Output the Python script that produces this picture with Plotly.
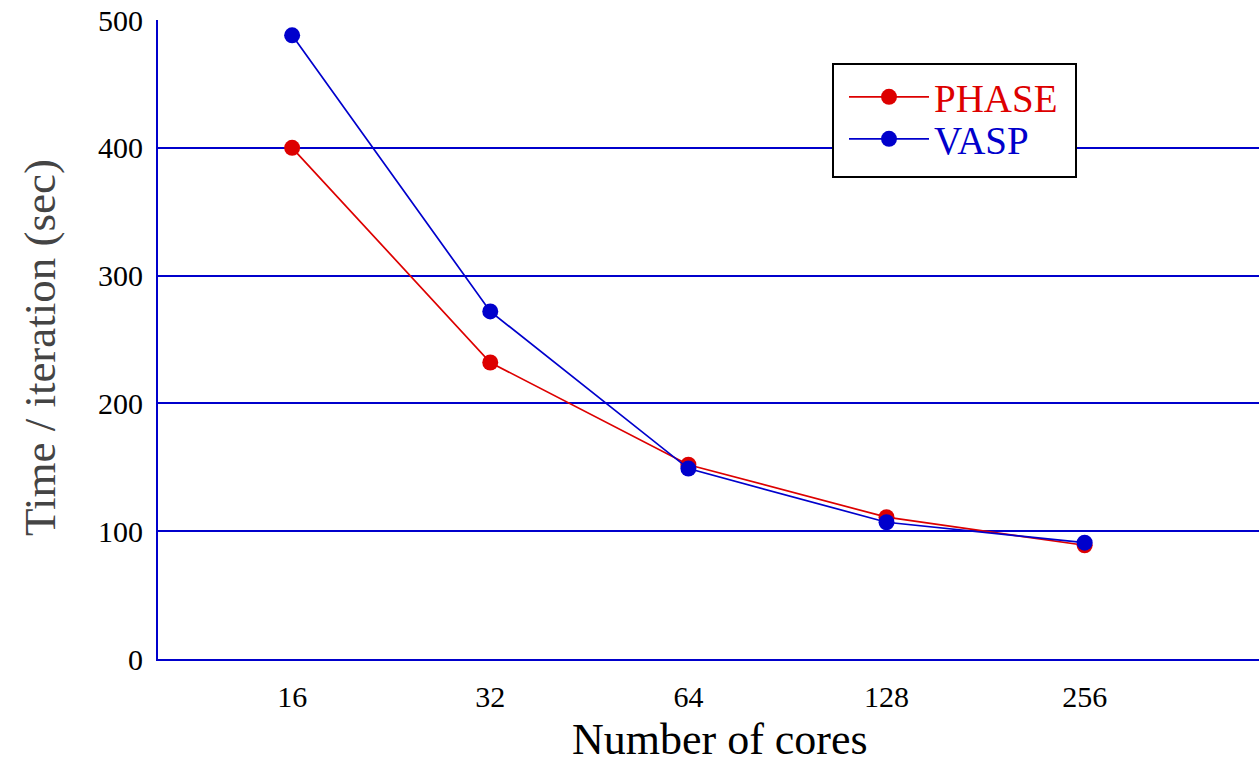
import plotly.graph_objects as go

# Parallel scaling benchmark: time per SCF iteration vs. core count
cores = ["16", "32", "64", "128", "256"]
phase_time = [400, 232, 152, 111, 89]
vasp_time = [488, 272, 149, 107, 91]
y_ticks = [0, 100, 200, 300, 400, 500]

RED = "#DD0000"
BLUE = "#0000CC"
SERIF = "Liberation Serif, Times New Roman, serif"

W, H = 1259, 766
L, R, T, B = 158, 0, 20, 107
PW, PH = W - L - R, H - T - B


def px_x(px):
    """Pixel column -> paper x."""
    return (px - L) / PW


def px_y(py):
    """Pixel row -> paper y."""
    return (H - B - py) / PH


fig = go.Figure()
fig.add_trace(go.Scatter(
    x=cores, y=phase_time, name="PHASE", mode="lines+markers",
    line=dict(color=RED, width=1.7),
    marker=dict(color=RED, size=16, symbol="circle"),
    legend="legend",
))
fig.add_trace(go.Scatter(
    x=cores, y=vasp_time, name="VASP", mode="lines+markers",
    line=dict(color=BLUE, width=1.7),
    marker=dict(color=BLUE, size=16, symbol="circle"),
    legend="legend2",
))

legend_common = dict(
    xanchor="left", yanchor="middle",
    bgcolor="rgba(0,0,0,0)", borderwidth=0,
    itemwidth=80,
)

fig.update_layout(
    width=W, height=H,
    margin=dict(l=L, r=R, t=T, b=B, autoexpand=False),
    plot_bgcolor="white", paper_bgcolor="white",
    font=dict(family=SERIF, color="black", size=30),
    showlegend=True,
    legend=dict(x=px_x(844), y=px_y(97),
                font=dict(family=SERIF, size=39, color=RED), **legend_common),
    legend2=dict(x=px_x(844), y=px_y(139),
                 font=dict(family=SERIF, size=39, color=BLUE), **legend_common),
    xaxis=dict(
        type="category", categoryorder="array", categoryarray=cores,
        range=[-0.677, 4.88],
        showgrid=False, zeroline=False,
        showline=True, linecolor=BLUE, linewidth=2,
        ticks="", ticklabelstandoff=10,
        tickfont=dict(family=SERIF, size=30),
        automargin=False,
    ),
    yaxis=dict(
        range=[0, 500], tickvals=y_ticks,
        showgrid=True, gridcolor=BLUE, gridwidth=2,
        zeroline=False,
        showline=True, linecolor=BLUE, linewidth=2,
        ticks="", ticklabelstandoff=7,
        tickfont=dict(family=SERIF, size=30),
        automargin=False,
    ),
    shapes=[
        # legend frame
        dict(type="rect", xref="paper", yref="paper", layer="above",
             x0=px_x(833), x1=px_x(1076), y0=px_y(177), y1=px_y(64),
             fillcolor="white", line=dict(color="black", width=2)),
    ],
    annotations=[
        dict(text="Number of cores", xref="paper", yref="paper",
             x=px_x(720), y=px_y(739), xanchor="center", yanchor="middle",
             showarrow=False, font=dict(family=SERIF, size=44, color="black")),
        dict(text="Time / iteration (sec)", xref="paper", yref="paper",
             x=px_x(40), y=px_y(348), xanchor="center", yanchor="middle",
             textangle=-90, showarrow=False,
             font=dict(family=SERIF, size=45, color="#444444")),
    ],
)

fig.write_html("out.html")
